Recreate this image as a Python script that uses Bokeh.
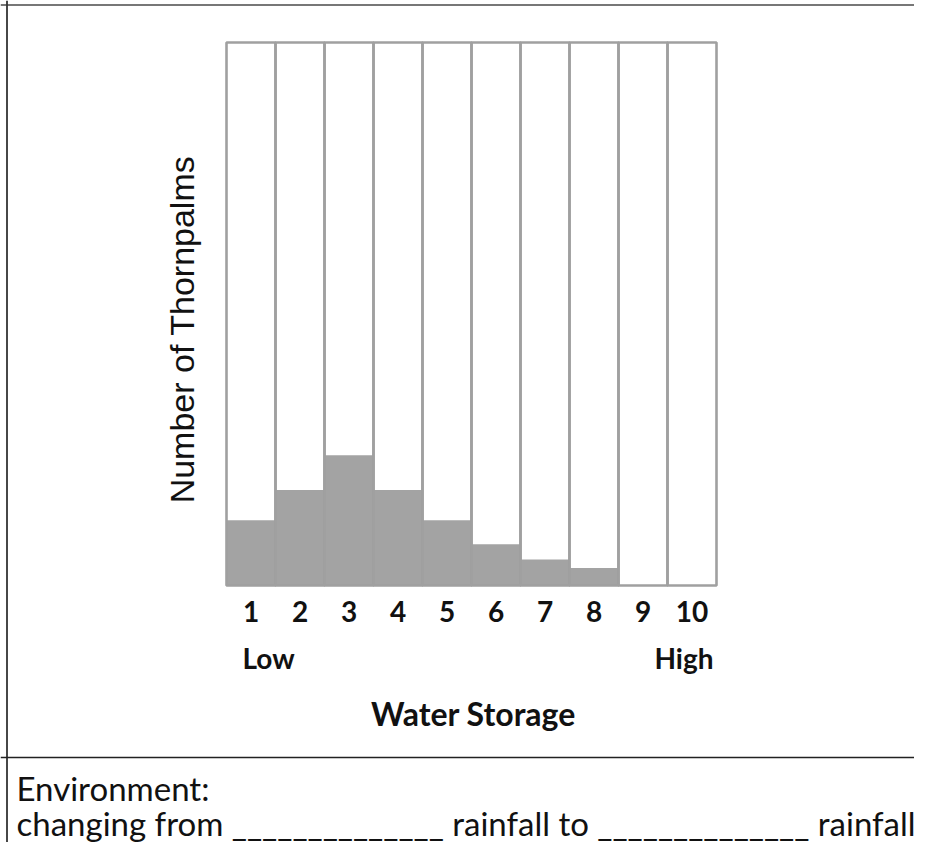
import math
from bokeh.plotting import figure
from bokeh.models import Range1d, ColumnDataSource, Span
from bokeh.core.properties import value
from bokeh.embed import file_html
from bokeh.resources import INLINE

# ---- data ----
categories = [1, 2, 3, 4, 5, 6, 7, 8, 9, 10]
tick_labels = ["1", "2", "3", "4", "5", "6", "7", "8", "9", "10"]
counts = [15, 22, 30, 22, 15, 9.5, 6, 4, 0, 0]
count_max = 125
low_label = "Low"
high_label = "High"
x_title = "Water Storage"
y_title = "Number of Thornpalms"
env_line1 = "Environment:"
env_line2 = "changing from ______________ rainfall to ______________ rainfall"

# ---- canvas geometry (pixels -> data units) ----
W, H = 914, 842
px_per_x = 49.0
px_per_y = 543.0 / count_max
x_start = 0.5 - 226 / px_per_x
x_end = x_start + W / px_per_x
y_start = -(H - 585) / px_per_y
y_end = y_start + H / px_per_y


def dx(px):
    return x_start + px / px_per_x


def dy(py):
    return y_start + (H - py) / px_per_y


p = figure(width=W, height=H, output_backend="svg", toolbar_location=None,
           x_range=Range1d(x_start, x_end), y_range=Range1d(y_start, y_end),
           min_border=0, min_border_left=0, min_border_right=0,
           min_border_top=0, min_border_bottom=0)
p.axis.visible = False
p.grid.visible = False
p.outline_line_color = None
p.background_fill_color = "white"
p.border_fill_color = "white"

src = ColumnDataSource(dict(
    x=categories,
    top=counts,
    left=[c - 0.5 for c in categories],
    right=[c + 0.5 for c in categories],
    full=[count_max] * len(categories),
    zero=[0] * len(categories),
    lab=tick_labels,
))

# filled bars
p.vbar(x="x", top="top", bottom=0, width=1.0, source=src,
       fill_color="#a3a3a3", line_color=None)
# column outlines
p.quad(left="left", right="right", bottom="zero", top="full", source=src,
       fill_alpha=0, line_color="#a0a0a0", line_width=2.6)

# tick labels
p.text(x="x", y=dy(611), text="lab", source=src,
       text_align="center", text_baseline="middle",
       text_font=value("Lato"), text_font_style="bold",
       text_font_size="28px", text_color="#111111")

# Low / High
p.text(x=[dx(242)], y=[dy(657)], text=[low_label], text_align="left",
       text_baseline="middle", text_font=value("Lato"), text_font_style="bold",
       text_font_size="28px", text_color="#111111")
p.text(x=[dx(713)], y=[dy(657)], text=[high_label], text_align="right",
       text_baseline="middle", text_font=value("Lato"), text_font_style="bold",
       text_font_size="28px", text_color="#111111")

# x title
p.text(x=[dx(473)], y=[dy(713)], text=[x_title], text_align="center",
       text_baseline="middle", text_font=value("Lato"), text_font_style="bold",
       text_font_size="32px", text_color="#111111")

# y title
p.text(x=[dx(181)], y=[dy(329)], text=[y_title], angle=math.pi / 2,
       text_align="center", text_baseline="middle",
       text_font=value("Liberation Sans"), text_font_size="34px",
       text_color="#111111")

# environment text
p.text(x=[dx(16)], y=[dy(787)], text=[env_line1], text_align="left",
       text_baseline="middle", text_font=value("Lato"),
       text_font_size="33px", text_color="#111111")
p.text(x=[dx(16)], y=[dy(822)], text=[env_line2], text_align="left",
       text_baseline="middle", text_font=value("Lato"),
       text_font_size="33px", text_color="#111111")

# frame lines
p.add_layout(Span(location=dy(4.5), dimension="width", line_color="#777777", line_width=1.8))
p.add_layout(Span(location=dx(6.5), dimension="height", line_color="#333333", line_width=1.8))
p.add_layout(Span(location=dy(757), dimension="width", line_color="#222222", line_width=1.6))

open("out.html", "w").write(file_html(p, INLINE))
